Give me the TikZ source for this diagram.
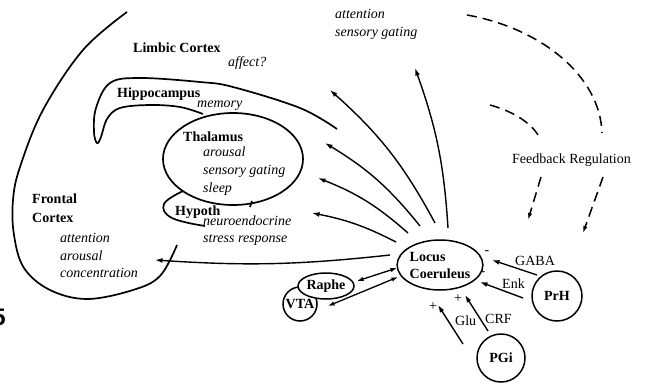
\documentclass[tikz,border=0pt]{standalone}
\usepackage{fontspec}
\setmainfont{Liberation Serif}
\newfontfamily\fignumfont{Liberation Sans}
\usetikzlibrary{arrows.meta,calc,shapes.geometric,positioning}

\newcommand{\fsz}{\fontsize{14}{17}\selectfont}

\tikzset{
	region/.style={line width=1.7pt},
	nucleus/.style={draw,line width=1.5pt,fill=white,font=\fsz\bfseries,inner sep=0pt},
	proj/.style={-{Latex[length=7.5pt,width=5pt]},line width=1.4pt},
	aff/.style={-{Latex[length=7.5pt,width=5pt]},line width=1.4pt},
	recip/.style={{Latex[length=6.5pt,width=4.5pt]}-{Latex[length=6.5pt,width=4.5pt]},line width=1.3pt},
	fbline/.style={line width=1.5pt,dash pattern=on 10pt off 6pt},
	rm/.style={anchor=base west,inner sep=0pt,font=\fsz},
	it/.style={anchor=base west,inner sep=0pt,font=\fsz\itshape},
	bn/.style={anchor=base west,inner sep=0pt,font=\fsz\bfseries},
	sgn/.style={inner sep=0pt,font=\fsz},
}

\begin{document}
\begin{tikzpicture}[x=1pt,y=-1pt]
	\clip (0,0) rectangle (645,383);
	% brain regions
	\draw[region] plot[smooth,tension=0.6] coordinates {(127,12) (83,50) (43,110) (20,167) (13,200) (14,235) (24,268) (50,290) (87,299) (133,290) (160,276) (177,245)};
	\draw[region] plot[smooth,tension=0.6] coordinates {(337,129) (300,108) (233,87) (200,82) (140,78) (110,83) (96,108) (94,132) (97,143) (101,137) (107,119) (120,108) (150,105) (180,107) (203,114)};
	\draw[region] (233,159) ellipse (70 and 46);
	\draw[region] plot[smooth,tension=0.7] coordinates {(183,191) (164,204) (172,218) (205,226)};
	\draw[region] (252,201) -- (250,207);
	% region labels
	\node[bn] (limbic) at (133,52) {Limbic Cortex};
	\node[it] (affect) at (228,66) {affect?};
	\node[bn] (hippo) at (117,97) {Hippocampus};
	\node[it] (memory) at (197,107) {memory};
	\node[bn] (thal) at (183,141) {Thalamus};
	\node[it] (thalA) at (203,156) {arousal};
	\node[it] (thalB) at (203,174) {sensory gating};
	\node[it] (thalC) at (203,192) {sleep};
	\node[bn] (hypo) at (175,215) {Hypoth};
	\node[it] (hypoA) at (203,225) {neuroendocrine};
	\node[it] (hypoB) at (203,242) {stress response};
	\node[bn] (front) at (32,203) {Frontal};
	\node[bn] (frontB) at (32,222) {Cortex};
	\node[it] (frontC) at (60,242) {attention};
	\node[it] (frontD) at (60,260) {arousal};
	\node[it] (frontE) at (60,277) {concentration};
	\node[it] (topA) at (335,18) {attention};
	\node[it] (topB) at (335,36) {sensory gating};
	\node[anchor=base east,inner sep=0pt,font=\fontsize{24}{24}\selectfont\fignumfont\bfseries] (fignum) at (6,325) {5};
	% nuclei
	\node[nucleus,ellipse,minimum width=76pt,minimum height=50pt,align=left] (lc) at (440,265) {Locus\\Coeruleus};
	\node[nucleus,circle,minimum size=34pt] (vta) at (300,304) {VTA};
	\node[nucleus,ellipse,minimum width=56pt,minimum height=26pt] (raphe) at (326,286) {Raphe};
	\node[nucleus,circle,minimum size=50pt] (prh) at (557,296) {PrH};
	\node[nucleus,circle,minimum size=48pt] (pgi) at (501,358) {PGi};
	% projection targets
	\coordinate (tgtA) at (415,68);
	\coordinate (tgtB) at (330,90);
	\coordinate (tgtC) at (325,143);
	\coordinate (tgtD) at (318,178);
	\coordinate (tgtE) at (312,213);
	\coordinate (tgtF) at (155,260);
	\draw[proj] ($(lc)+(8,-37)$) to[bend right=8] (tgtA);
	\draw[proj] ($(lc)+(-5,-42)$) to[bend right=10] (tgtB);
	\draw[proj] ($(lc)+(-20,-39)$) to[bend right=10] (tgtC);
	\draw[proj] ($(lc)+(-32,-32)$) to[bend right=10] (tgtD);
	\draw[proj] ($(lc)+(-44,-23)$) to[bend right=8] (tgtE);
	\draw[proj] ($(lc)+(-50,-10)$) to[bend left=5] (tgtF);
	% reciprocal
	\draw[recip] ($(raphe)+(31,-5)$) -- ($(lc)+(-43,3)$);
	\draw[recip] ($(vta)+(28,2)$) -- ($(lc)+(-42,12)$);
	% afferents
	\draw[aff] ($(prh)+(-20,-21)$) -- ($(lc)+(52,-5)$);
	\draw[aff] ($(prh)+(-34,2)$) -- ($(lc)+(40,17)$);
	\draw[aff] ($(pgi)+(-13,-27)$) -- ($(lc)+(25,30)$);
	\draw[aff] ($(pgi)+(-38,-14)$) -- ($(lc)+(-2,40)$);
	\node[rm] (gaba) at (515,265) {GABA};
	\node[rm] (enk) at (502,288) {Enk};
	\node[rm] (crf) at (485,323) {CRF};
	\node[rm] (glu) at (455,325) {Glu};
	\node[sgn] (sgnA) at (487,253) {-};
	\node[sgn] (sgnB) at (483,274) {-};
	\node[sgn] (sgnC) at (458,299) {+};
	\node[sgn] (sgnD) at (433,307) {+};
	% feedback
	\node[rm] (fb) at (512,163) {Feedback Regulation};
	\coordinate (fbA) at (467,15);
	\coordinate (fbB) at (602,133);
	\coordinate (fbC) at (603,177);
	\coordinate (fbD) at (583,233);
	\coordinate (fbE) at (490,105);
	\coordinate (fbF) at (538,135);
	\coordinate (fbG) at (541,177);
	\coordinate (fbH) at (528,220);
	\draw[fbline] (fbA) .. controls (540,28) and (600,75) .. (fbB);
	\draw[fbline,-{Latex[length=7pt,width=4.5pt]}] (fbC) -- (fbD);
	\draw[fbline] (fbE) .. controls (512,111) and (530,122) .. (fbF);
	\draw[fbline,-{Latex[length=7pt,width=4.5pt]}] (fbG) -- (fbH);
\end{tikzpicture}
\end{document}
